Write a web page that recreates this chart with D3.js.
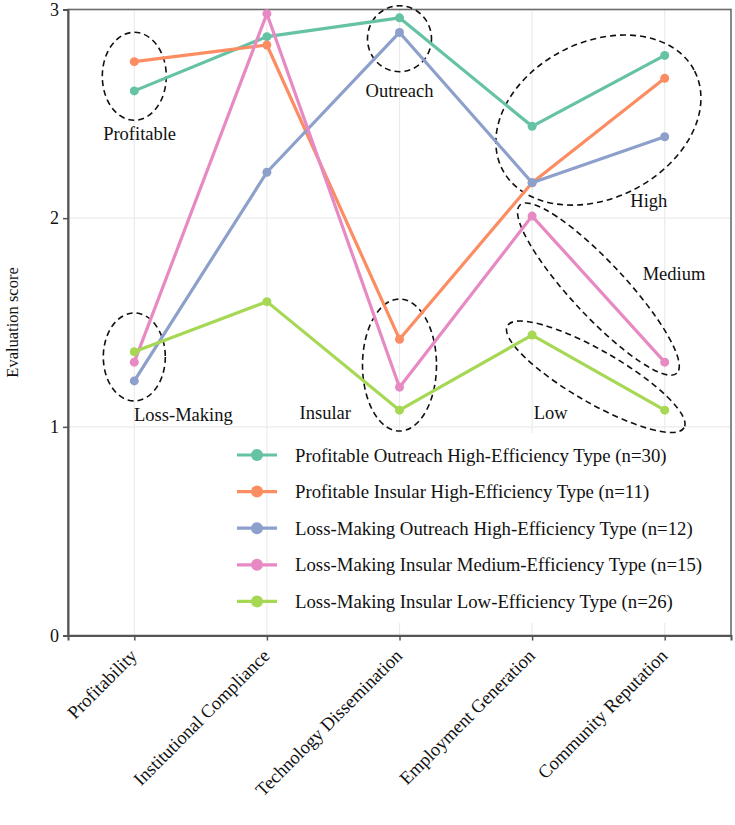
<!DOCTYPE html>
<html>
<head>
<meta charset="utf-8">
<script src="https://cdn.jsdelivr.net/npm/d3@7/dist/d3.min.js"></script>
<style>
  html, body { margin: 0; padding: 0; background: #fff; }
  svg { display: block; }
  text { font-family: "Liberation Serif", "Times New Roman", serif; fill: #111; }
</style>
</head>
<body>
<svg id="chart" width="735" height="825"></svg>
<script>
// ---------- data ----------
const categories = ["Profitability", "Institutional Compliance", "Technology Dissemination", "Employment Generation", "Community Reputation"];
const seriesNames = [
  "Profitable Outreach High-Efficiency Type (n=30)",
  "Profitable Insular High-Efficiency Type (n=11)",
  "Loss-Making Outreach High-Efficiency Type (n=12)",
  "Loss-Making Insular Medium-Efficiency Type (n=15)",
  "Loss-Making Insular Low-Efficiency Type (n=26)"
];
const profitableOutreachHigh = [2.61, 2.87, 2.96, 2.44, 2.78];
const profitableInsularHigh  = [2.75, 2.83, 1.42, 2.17, 2.67];
const lossOutreachHigh       = [1.22, 2.22, 2.89, 2.17, 2.39];
const lossInsularMedium      = [1.31, 2.98, 1.19, 2.01, 1.31];
const lossInsularLow         = [1.36, 1.60, 1.08, 1.44, 1.08];
const seriesValues = [profitableOutreachHigh, profitableInsularHigh, lossOutreachHigh, lossInsularMedium, lossInsularLow];
const colors = ["#66c2a5", "#fc8d62", "#8da0cb", "#e78ac3", "#a6d854"];
const yTicks = [0, 1, 2, 3];
const yLabel = "Evaluation score";

// group annotations (category index position, score)
const groupLabels = ["Profitable", "Loss-Making", "Outreach", "Insular", "High", "Medium", "Low"];
const groupCenterCat = [0, 0, 2, 2, 3.5, 3.5, 3.48];
const groupCenterVal = [2.68, 1.335, 2.86, 1.296, 2.47, 1.66, 1.24];
const labelCat = [0.04, 0.37, 2, 1.44, 3.88, 4.07, 3.14];
const labelVal = [2.375, 1.03, 2.58, 1.0375, 2.053, 1.704, 1.0375];

// ---------- layout ----------
const svg = d3.select("#chart");
const L = 68, R = 731, T = 9.5, B = 635.5;

const x = d3.scalePoint().domain(categories).range([L, R]).padding(0.5);
const y = d3.scaleLinear().domain([0, 3]).range([B, T]);
const xi = i => L + (R - L) * (i + 0.5) / categories.length;

// grid
const grid = svg.append("g");
grid.selectAll("line.h").data(yTicks).join("line")
  .attr("x1", L).attr("x2", R).attr("y1", d => y(d)).attr("y2", d => y(d))
  .attr("stroke", "#ebebeb").attr("stroke-width", 1.2);
grid.selectAll("line.v").data(categories).join("line")
  .attr("y1", T).attr("y2", B).attr("x1", d => x(d)).attr("x2", d => x(d))
  .attr("stroke", "#ebebeb").attr("stroke-width", 1.2);

// legend background (covers grid)
svg.append("rect").attr("x", 269).attr("y", 433).attr("width", R - 270).attr("height", 190).attr("fill", "#fff");

// panel border
svg.append("rect").attr("x", L).attr("y", T).attr("width", R - L).attr("height", B - T)
  .attr("fill", "none").attr("stroke", "#6b6b6b").attr("stroke-width", 1.6);

// axes
const yAxis = svg.append("g").attr("transform", `translate(${L},0)`)
  .call(d3.axisLeft(y).tickValues(yTicks).tickFormat(d3.format("d")).tickSize(5).tickPadding(4));
const xAxis = svg.append("g").attr("transform", `translate(0,${B})`)
  .call(d3.axisBottom(x).tickSize(5).tickPadding(4));
[yAxis, xAxis].forEach(a => {
  a.select(".domain").attr("stroke", "#555").attr("stroke-width", 2);
  a.selectAll(".tick line").attr("stroke", "#555").attr("stroke-width", 1.5);
  a.selectAll("text").style("font-family", "'Liberation Serif', serif").attr("fill", "#111");
});
yAxis.selectAll("text").style("font-size", "18px");
xAxis.selectAll("text").style("font-size", "18.5px")
  .attr("text-anchor", "end")
  .attr("dx", 0).attr("dy", 0)
  .attr("transform", "translate(-3,15) rotate(-45)");

// y label
svg.append("text").attr("transform", `translate(18,${(T + B) / 2}) rotate(-90)`)
  .attr("text-anchor", "middle").style("font-size", "16.5px").text(yLabel);

// ellipses
const ellipseShapes = [
  { rx: 32, ry: 44, rot: 0 },
  { rx: 31, ry: 44, rot: 0 },
  { rx: 32, ry: 33, rot: 0 },
  { rx: 37, ry: 66, rot: 0 },
  { rx: 108, ry: 78, rot: -27 },
  { rx: 115, ry: 27, rot: 47 },
  { rx: 102, ry: 26, rot: 30 }
];
svg.append("g").selectAll("ellipse").data(groupLabels).join("ellipse")
  .attr("transform", (d, i) => `translate(${xi(groupCenterCat[i])},${y(groupCenterVal[i])}) rotate(${ellipseShapes[i].rot})`)
  .attr("rx", (d, i) => ellipseShapes[i].rx).attr("ry", (d, i) => ellipseShapes[i].ry)
  .attr("fill", "none").attr("stroke", "#111").attr("stroke-width", 1.6).attr("stroke-dasharray", "6,4");

svg.append("g").selectAll("text").data(groupLabels).join("text")
  .attr("x", (d, i) => xi(labelCat[i])).attr("y", (d, i) => y(labelVal[i]))
  .attr("text-anchor", "middle").style("font-size", "18.5px").text(d => d);

// lines
const line = d3.line().x((d, i) => x(categories[i])).y(d => y(d));
const gs = svg.append("g").selectAll("g").data(seriesValues).join("g");
gs.append("path").attr("d", d => line(d)).attr("fill", "none")
  .attr("stroke", (d, i) => colors[i]).attr("stroke-width", 3.2).attr("stroke-linejoin", "round");
gs.each(function (vals, si) {
  d3.select(this).selectAll("circle").data(vals).join("circle")
    .attr("cx", (d, i) => x(categories[i])).attr("cy", d => y(d)).attr("r", 4.5)
    .attr("fill", colors[si]);
});

// legend
const lg = svg.append("g");
const rowY = i => 455 + i * 36.6;
seriesNames.forEach((name, i) => {
  lg.append("line").attr("x1", 237).attr("x2", 277).attr("y1", rowY(i)).attr("y2", rowY(i))
    .attr("stroke", colors[i]).attr("stroke-width", 3.2);
  lg.append("circle").attr("cx", 257).attr("cy", rowY(i)).attr("r", 6).attr("fill", colors[i]);
  lg.append("text").attr("x", 295).attr("y", rowY(i)).attr("dy", "0.35em")
    .style("font-size", "18.8px").text(name);
});
</script>
</body>
</html>
